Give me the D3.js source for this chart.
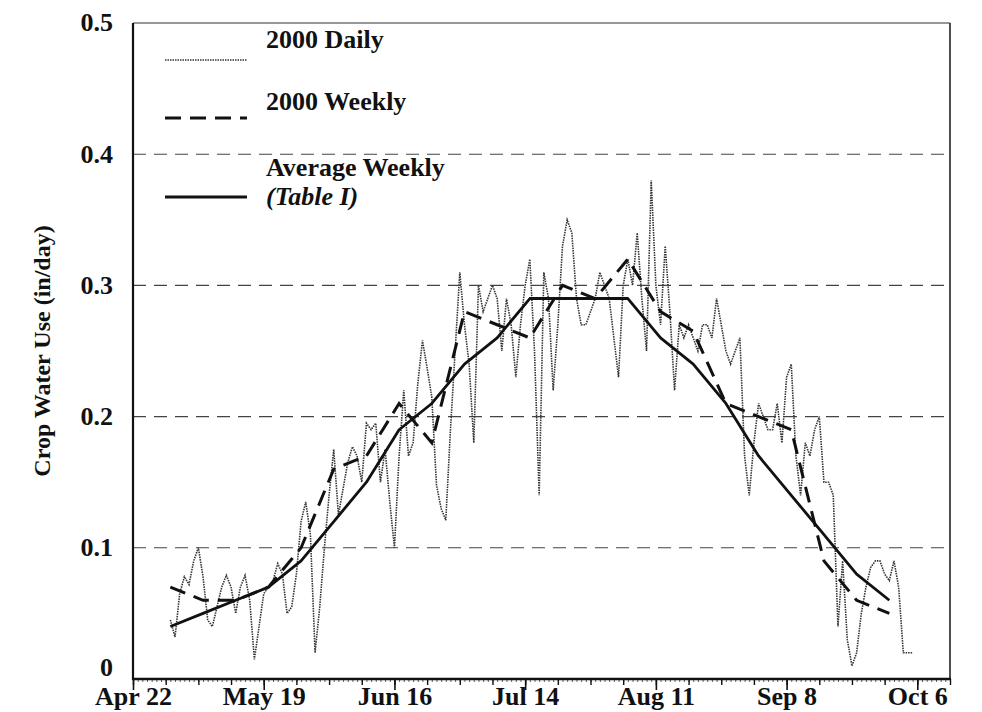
<!DOCTYPE html>
<html>
<head>
<meta charset="utf-8">
<script src="https://cdn.jsdelivr.net/npm/d3@7"></script>
<style>
  body { margin: 0; background: #fff; }
  svg { display: block; }
  text { font-family: "Liberation Serif", "Times New Roman", serif; font-weight: bold; fill: #111; }
  .tick-label { font-size: 26px; }
  .axis-title { font-size: 24px; }
  .legend-label { font-size: 26px; }
</style>
</head>
<body>
<svg id="CropVis" width="982" height="712"></svg>
<script>
const width = 982;
const height = 712;

// x axis: days counted from Apr 22
const labelDays = [0, 28, 56, 84, 112, 140, 168];
const dateLabels = ["Apr 22", "May 19", "Jun 16", "Jul 14", "Aug 11", "Sep 8", "Oct 6"];
const yTicks = [0, 0.1, 0.2, 0.3, 0.4, 0.5];
const yLabels = ["0", "0.1", "0.2", "0.3", "0.4", "0.5"];

// weekly values (one per week, starting Apr 30)
const weekDays = [8, 15, 22, 29, 36, 43, 50, 57, 64, 71, 78, 85, 92, 99, 106, 113, 120, 127, 134, 141, 148, 155, 162];
const weekly2000 = [0.07, 0.06, 0.06, 0.07, 0.10, 0.16, 0.17, 0.21, 0.18, 0.28, 0.27, 0.26,
  0.30, 0.29, 0.32, 0.28, 0.265, 0.21, 0.20, 0.19, 0.09, 0.06, 0.05];
const averageWeekly = [0.04, 0.05, 0.06, 0.07, 0.09, 0.12, 0.15, 0.19, 0.21, 0.24, 0.26, 0.29,
  0.29, 0.29, 0.29, 0.26, 0.24, 0.21, 0.17, 0.14, 0.11, 0.08, 0.06];

// daily 2000 values, first value is day 8 (Apr 30)
const dailyStart = 8;
const daily2000 = [
  0.045, 0.032, 0.065, 0.078, 0.072, 0.09, 0.10, 0.078, 0.045, 0.04,
  0.055, 0.07, 0.079, 0.07, 0.05, 0.07, 0.079, 0.06, 0.015, 0.04,
  0.065, 0.07, 0.075, 0.088, 0.08, 0.05, 0.055, 0.08, 0.12, 0.135,
  0.11, 0.02, 0.055, 0.10, 0.14, 0.175, 0.125, 0.145, 0.165, 0.177,
  0.17, 0.15, 0.195, 0.19, 0.195, 0.15, 0.175, 0.135, 0.10, 0.17,
  0.22, 0.17, 0.18, 0.225, 0.258, 0.237, 0.215, 0.148, 0.13, 0.121,
  0.19, 0.25, 0.31, 0.27, 0.24, 0.18, 0.30, 0.28, 0.29, 0.30,
  0.29, 0.25, 0.29, 0.27, 0.23, 0.27, 0.30, 0.32, 0.25, 0.14,
  0.31, 0.29, 0.22, 0.27, 0.33, 0.35, 0.34, 0.29, 0.27, 0.27,
  0.28, 0.29, 0.31, 0.30, 0.29, 0.26, 0.23, 0.30, 0.32, 0.30,
  0.34, 0.29, 0.25, 0.38, 0.30, 0.27, 0.33, 0.28, 0.22, 0.27,
  0.26, 0.27, 0.26, 0.25, 0.27, 0.27, 0.26, 0.29, 0.27, 0.25,
  0.24, 0.25, 0.26, 0.17, 0.14, 0.18, 0.21, 0.20, 0.19, 0.19,
  0.21, 0.18, 0.23, 0.24, 0.17, 0.14, 0.18, 0.17, 0.19, 0.20,
  0.15, 0.15, 0.14, 0.04, 0.09, 0.03, 0.01, 0.02, 0.05, 0.07,
  0.085, 0.09, 0.09, 0.08, 0.075, 0.09, 0.07, 0.02, 0.02, 0.02
];

const margin = {
  top: 23,
  bottom: 33,
  left: 133,
  right: 32
};

let svg = d3.select("body").select("svg#CropVis");
const plot = svg.append("g").attr("id", "plot");
plot.attr("transform", translate(margin.left, margin.top));

let plotWidth = width - margin.left - margin.right;
let plotHeight = height - margin.top - margin.bottom;

const scales = {
  x: d3.scaleLinear().domain([0, 175]).range([0, plotWidth]),
  y: d3.scaleLinear().domain([0, 0.5]).range([plotHeight, 0])
};

drawGrid();
drawLines();
drawAxes();
drawTitles();
drawLegend();


/* GRID */
function drawGrid() {
  const grid = plot.append("g").attr("id", "grid");

  grid.selectAll("line")
    .data(yTicks.filter(d => d > 0 && d < 0.5))
    .enter()
    .append("line")
    .attr("x1", 0)
    .attr("x2", plotWidth)
    .attr("y1", d => scales.y(d))
    .attr("y2", d => scales.y(d))
    .attr("stroke", "#444")
    .attr("stroke-width", 1.1)
    .attr("stroke-dasharray", "13,8");
}


/* AXES */
function drawAxes() {
  // frame: top and right thin, left and bottom heavy
  plot.append("line")
    .attr("x1", 0).attr("x2", plotWidth)
    .attr("y1", scales.y(0.5)).attr("y2", scales.y(0.5))
    .attr("stroke", "#333").attr("stroke-width", 1.2);

  plot.append("line")
    .attr("x1", plotWidth).attr("x2", plotWidth)
    .attr("y1", 0).attr("y2", plotHeight)
    .attr("stroke", "#222").attr("stroke-width", 1.6);

  // daily / weekly / four-week ticks along the bottom
  let xGroup = plot.append("g").attr("id", "x-axis").attr("transform", translate(0, plotHeight));

  xGroup.append("g")
    .call(d3.axisBottom(scales.x).tickValues(d3.range(0, 176, 1)).tickSize(3).tickFormat(""))
    .call(g => g.selectAll("line").attr("stroke", "#333").attr("stroke-width", 0.8));

  xGroup.append("g")
    .call(d3.axisBottom(scales.x).tickValues(d3.range(0, 176, 7)).tickSize(6).tickFormat(""))
    .call(g => g.selectAll("line").attr("stroke", "#111").attr("stroke-width", 1.4));

  xGroup.append("g")
    .call(d3.axisBottom(scales.x).tickValues(labelDays).tickSize(11)
      .tickFormat((d, i) => dateLabels[i]))
    .call(g => g.selectAll("line").attr("stroke", "#111").attr("stroke-width", 1.6))
    .call(g => g.selectAll("text").attr("class", "tick-label").attr("y", 8).attr("dy", "0.7em"));

  xGroup.selectAll(".domain").remove();

  xGroup.append("line")
    .attr("x1", -1).attr("x2", plotWidth + 1)
    .attr("y1", 0).attr("y2", 0)
    .attr("stroke", "#111").attr("stroke-width", 2.6);

  // left axis
  let yGroup = plot.append("g").attr("id", "y-axis");
  yGroup.call(d3.axisLeft(scales.y).tickValues(yTicks).tickSize(0).tickPadding(20)
    .tickFormat((d, i) => yLabels[i]));
  yGroup.selectAll("text").attr("class", "tick-label")
    .attr("dy", d => d === 0 ? "-0.12em" : "0.3em");
  yGroup.select(".domain").remove();

  yGroup.append("line")
    .attr("x1", 0).attr("x2", 0)
    .attr("y1", 0).attr("y2", plotHeight + 1)
    .attr("stroke", "#111").attr("stroke-width", 2.2);
}


/* LINES */
function drawLines() {
  const line = d3.line()
    .x(d => scales.x(d.day))
    .y(d => scales.y(d.value));

  const dailyData = daily2000.map((v, i) => ({ day: dailyStart + i, value: v }));
  const weeklyData = weekDays.map((d, i) => ({ day: d, value: weekly2000[i] }));
  const averageData = weekDays.map((d, i) => ({ day: d, value: averageWeekly[i] }));

  plot.append("path")
    .datum(dailyData)
    .attr("d", line)
    .attr("fill", "none")
    .attr("stroke", "#333")
    .attr("stroke-width", 1.6)
    .attr("stroke-dasharray", "1.5,1");

  plot.append("path")
    .datum(averageData)
    .attr("d", line)
    .attr("fill", "none")
    .attr("stroke", "#111")
    .attr("stroke-width", 2.8)
    .attr("stroke-linejoin", "round");

  plot.append("path")
    .datum(weeklyData)
    .attr("d", line)
    .attr("fill", "none")
    .attr("stroke", "#111")
    .attr("stroke-width", 3)
    .attr("stroke-dasharray", "16,9");
}


/* AXIS TITLE */
function drawTitles() {
  const yMiddle = margin.top + plotHeight / 2;
  const yTitleGroup = svg.append("g");
  yTitleGroup.attr("transform", translate(50, yMiddle));

  yTitleGroup.append("text")
    .attr("class", "axis-title")
    .attr("text-anchor", "middle")
    .attr("transform", "rotate(-90)")
    .text("Crop Water Use (in/day)");
}


/* LEGEND */
function drawLegend() {
  const legend = svg.append("g").attr("id", "legend");
  const x0 = 165, x1 = 247, tx = 266;

  legend.append("line")
    .attr("x1", x0).attr("x2", x1).attr("y1", 60).attr("y2", 60)
    .attr("stroke", "#333").attr("stroke-width", 1.6).attr("stroke-dasharray", "1.5,1");
  legend.append("text").attr("class", "legend-label")
    .attr("x", tx).attr("y", 48).text("2000 Daily");

  legend.append("line")
    .attr("x1", x0).attr("x2", x1).attr("y1", 118).attr("y2", 118)
    .attr("stroke", "#111").attr("stroke-width", 3).attr("stroke-dasharray", "16,9");
  legend.append("text").attr("class", "legend-label")
    .attr("x", tx).attr("y", 110).text("2000 Weekly");

  legend.append("line")
    .attr("x1", x0).attr("x2", x1).attr("y1", 197).attr("y2", 197)
    .attr("stroke", "#111").attr("stroke-width", 2.8);
  legend.append("text").attr("class", "legend-label")
    .attr("x", tx).attr("y", 176).text("Average Weekly");
  legend.append("text").attr("class", "legend-label")
    .attr("x", tx).attr("y", 205)
    .style("font-style", "italic")
    .text("(Table I)");
}


function translate(x, y) {
  return 'translate(' + String(x) + ',' + String(y) + ')';
}
</script>
</body>
</html>
